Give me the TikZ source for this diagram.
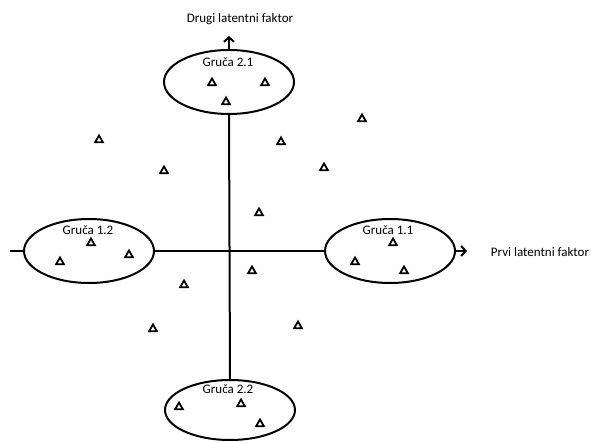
\documentclass[tikz,border=0pt]{standalone}
\usepackage{fontspec}
\setmainfont{Carlito}
\usetikzlibrary{shapes.geometric, arrows.meta}

\begin{document}
\begin{tikzpicture}[x=1pt, y=-1pt, >={Straight Barb[length=4.5pt,width=10pt]},
  cluster/.style={draw, ellipse, line width=2pt, fill=white, minimum width=130pt, minimum height=64pt, inner sep=0pt},
  tri/.style={draw, regular polygon, regular polygon sides=3, line width=1.8pt, minimum size=9pt, inner sep=0pt},
  axis/.style={line width=2pt},
  lbl/.style={font=\fontsize{13}{15}\selectfont}]
\useasboundingbox (0,0) rectangle (594,443);

% Clusters
\node[cluster] (c21) at (229,82) {};
\node[cluster] (c12) at (89,251) {};
\node[cluster] (c11) at (390,251) {};
\node[cluster, minimum height=60pt] (c22) at (230,410) {};

% Axis ends
\coordinate (yt) at (229,36);
\coordinate (xl) at (10,251);
\coordinate (xr) at (467,251);

% Axes
\draw[axis] (xl) -- (c12.west);
\draw[axis] (c12.east) -- (c11.west);
\draw[axis, ->] (c11.east) -- (xr);
\draw[axis] (c21.south) -- (c22.north);
\draw[axis, ->] (c21.north) -- (yt);

% Points in clusters
\node[tri] (t1) at (212,83) {};
\node[tri] (t2) at (265,83) {};
\node[tri] (t3) at (226,102) {};
\node[tri] (t4) at (91,243) {};
\node[tri] (t5) at (60,262) {};
\node[tri] (t6) at (129,255) {};
\node[tri] (t7) at (393,243) {};
\node[tri] (t8) at (355,262) {};
\node[tri] (t9) at (404,271) {};
\node[tri] (t10) at (179,407) {};
\node[tri] (t11) at (241,404) {};
\node[tri] (t12) at (260,424) {};

% Scattered points
\node[tri] (s1) at (99,140) {};
\node[tri] (s2) at (164,171) {};
\node[tri] (s3) at (281,142) {};
\node[tri] (s4) at (362,119) {};
\node[tri] (s5) at (324,168) {};
\node[tri] (s6) at (259,213) {};
\node[tri] (s7) at (252,271) {};
\node[tri] (s8) at (184,285) {};
\node[tri] (s9) at (153,329) {};
\node[tri] (s10) at (298,326) {};

% Labels
\node[lbl] at (228,62) {Gruča 2.1};
\node[lbl] at (88,230) {Gruča 1.2};
\node[lbl] at (388,230) {Gruča 1.1};
\node[lbl] at (228,389) {Gruča 2.2};
\node[lbl] at (240,19) {Drugi latentni faktor};
\node[lbl] at (540,252) {Prvi latentni faktor};
\end{tikzpicture}
\end{document}
